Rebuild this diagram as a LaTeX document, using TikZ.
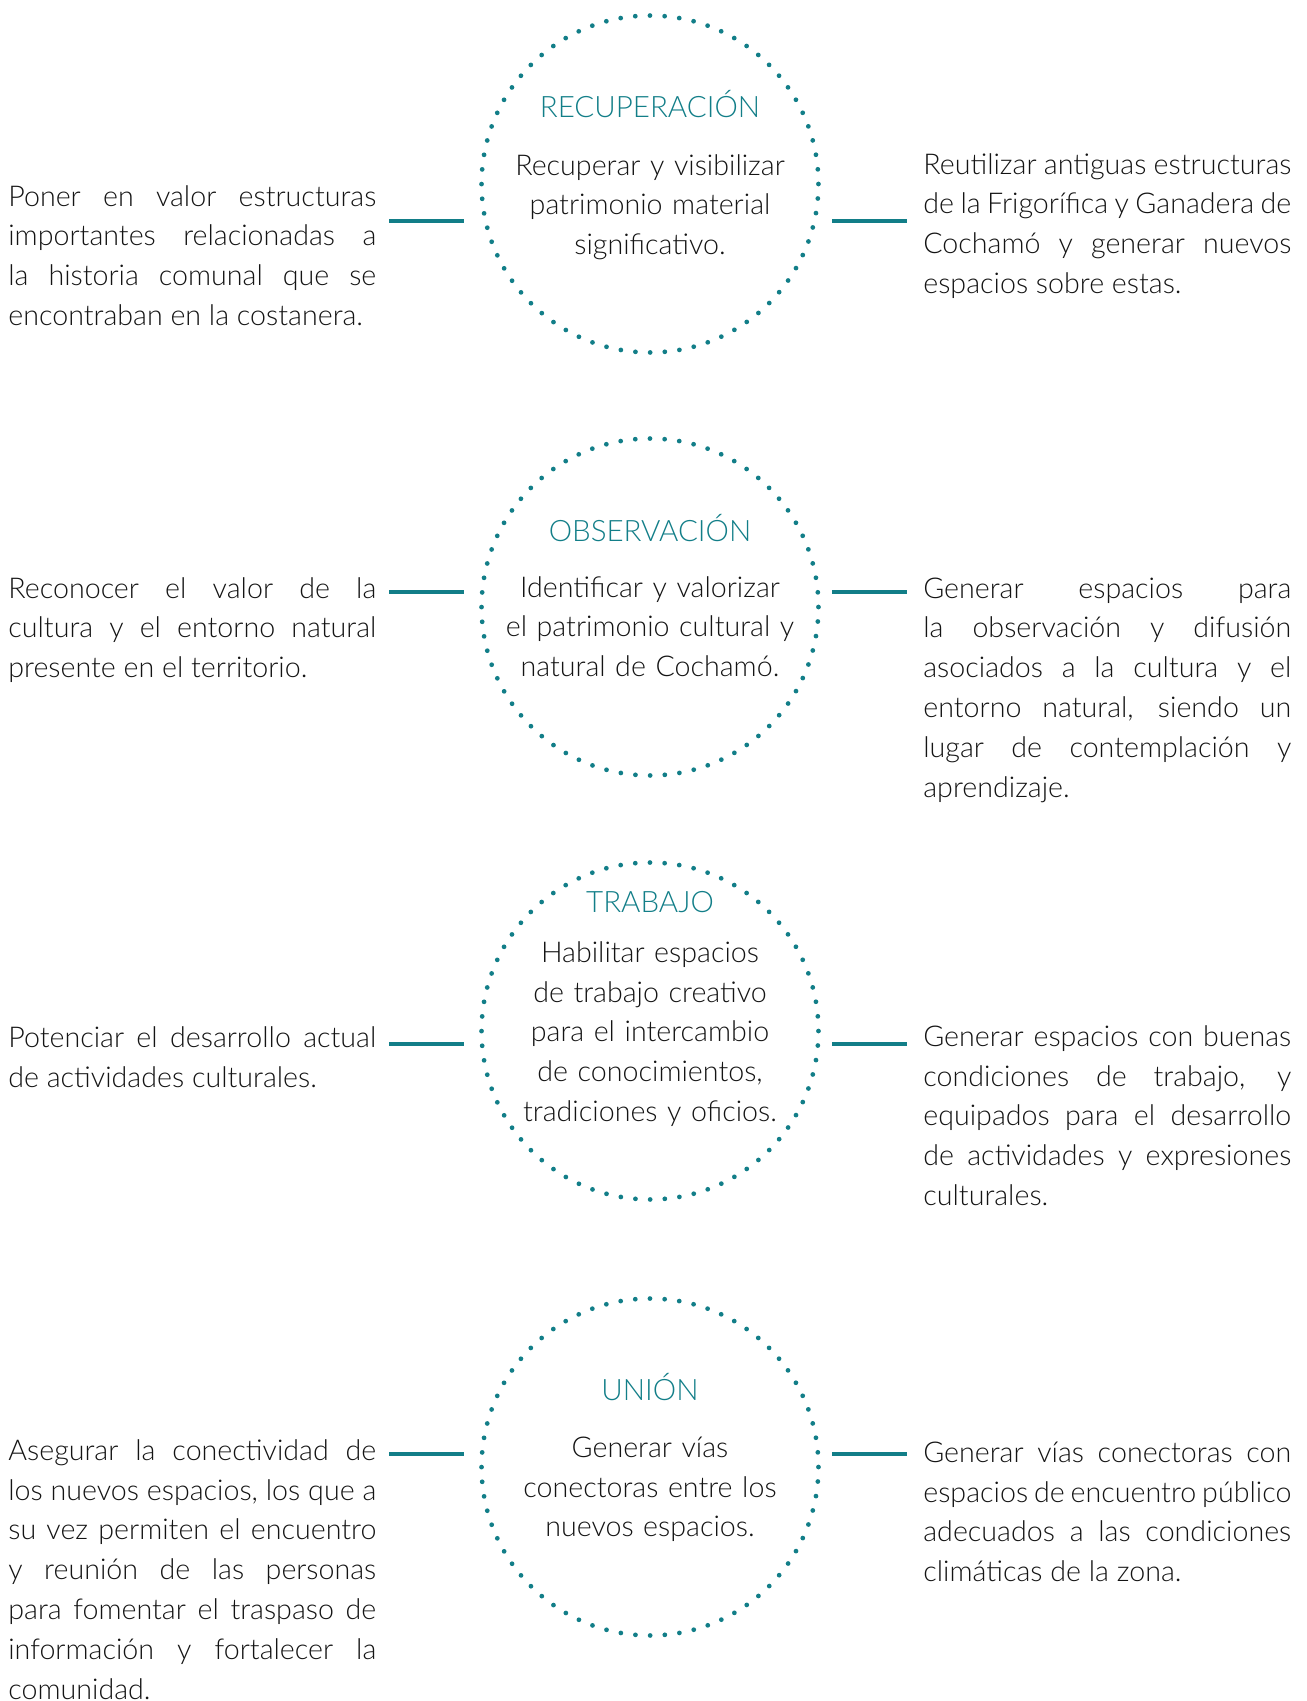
\documentclass[tikz,border=0pt]{standalone}
\usepackage{fontspec}
\setmainfont{Lato Light}
\definecolor{petrol}{RGB}{18,126,136}
\definecolor{ink}{RGB}{20,20,20}
\tikzset{
	ring/.style={circle, minimum size=6.74cm, inner sep=0pt, draw=petrol, line width=0.095cm, line cap=round, dash pattern=on 0pt off 8.37pt},
	heading/.style={text=petrol, anchor=base, inner sep=0pt, font=\fontsize{16.8}{22.76}\selectfont},
	body/.style={text=ink, anchor=base, align=center, text width=6.2cm, inner sep=0pt},
	side/.style={text=ink, anchor=base west, align=justify, text width=7.36cm, inner sep=0pt},
	link/.style={draw=petrol, line width=0.07cm},
}
\begin{document}
\begin{tikzpicture}[x=0.02cm, y=-0.02cm, font=\fontsize{16.3}{22.76}\selectfont]
	\useasboundingbox (0,0) rectangle (1306,1701);
	%circles
	\node[ring] (c1) at (650,184) {};
	\node[ring] (c2) at (650,607) {};
	\node[ring] (c3) at (650,1031) {};
	\node[ring] (c4) at (650,1467) {};
	
	%titles and texts in the circles
	\node[heading] (t1) at (650,117) {RECUPERACIÓN};
	\node[body] (b1) at (650,175) {Recuperar y visibilizar\\patrimonio material\\significativo.};
	\node[heading] (t2) at (650,541) {OBSERVACIÓN};
	\node[body] (b2) at (650,597) {Identificar y valorizar\\el patrimonio cultural y\\natural de Cochamó.};
	\node[heading] (t3) at (650,912) {TRABAJO};
	\node[body] (b3) at (650,962) {Habilitar espacios\\de trabajo creativo\\para el intercambio\\de conocimientos,\\tradiciones y oficios.};
	\node[heading] (t4) at (650,1400) {UNIÓN};
	\node[body] (b4) at (650,1457) {Generar vías\\conectoras entre los\\nuevos espacios.};
	
	%left side
	\node[side] (l1) at (8,206) {Poner en valor estructuras\linebreak importantes relacionadas a\linebreak la historia comunal que se\linebreak encontraban en la costanera.};
	\node[side] (l2) at (8,598) {Reconocer el valor de la\linebreak cultura y el entorno natural\linebreak presente en el territorio.};
	\node[side] (l3) at (8,1047) {Potenciar el desarrollo actual\linebreak de actividades culturales.};
	\node[side] (l4) at (8,1460) {Asegurar la conectividad de\linebreak los nuevos espacios, los que a\linebreak su vez permiten el encuentro\linebreak y reunión de las personas\linebreak para fomentar el traspaso de\linebreak información y fortalecer la\linebreak comunidad.};
	
	%right side
	\node[side] (r1) at (923,174) {Reutilizar antiguas estructuras\linebreak de la Frigorífica y Ganadera de\linebreak Cochamó y generar nuevos\linebreak espacios sobre estas.};
	\node[side] (r2) at (923,598) {Generar espacios para\linebreak la observación y difusión\linebreak asociados a la cultura y el\linebreak entorno natural, siendo un\linebreak lugar de contemplación y\linebreak aprendizaje.};
	\node[side] (r3) at (923,1046) {Generar espacios con buenas\linebreak condiciones de trabajo, y\linebreak equipados para el desarrollo\linebreak de actividades y expresiones\linebreak culturales.};
	\node[side] (r4) at (923,1462) {Generar vías conectoras con\linebreak espacios de encuentro público\linebreak adecuados a las condiciones\linebreak climáticas de la zona.};
	
	%short links
	\foreach \n/\y in {1/221, 2/592, 3/1044, 4/1454}{
		\coordinate (la\n) at (389,\y);
		\coordinate (lb\n) at (464,\y);
		\coordinate (ra\n) at (832,\y);
		\coordinate (rb\n) at (907,\y);
		\draw[link] (la\n) -- (lb\n);
		\draw[link] (ra\n) -- (rb\n);
	}
\end{tikzpicture}
\end{document}
